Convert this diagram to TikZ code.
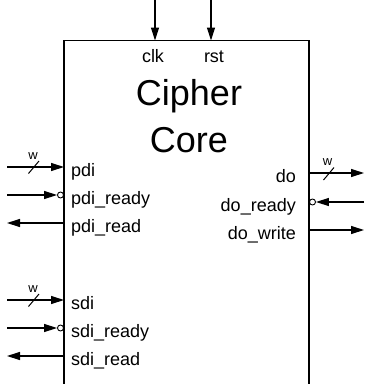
\documentclass[tikz,border=0pt]{standalone}
\usepackage{fontspec}
\setmainfont{Liberation Sans}
\usetikzlibrary{arrows.meta}
\begin{document}
\begin{tikzpicture}[x=1pt,y=-1pt,
  portlbl/.style={font=\fontsize{18}{20}\selectfont, inner sep=0pt},
  bigtitle/.style={font=\fontsize{36}{40}\selectfont, inner sep=0pt},
  buslbl/.style={font=\fontsize{13}{14}\selectfont, inner sep=0pt},
  sig/.style={line width=1.2pt, -{Triangle[length=13pt,width=8pt]}},
  neg/.style={circle, draw, line width=0.9pt, minimum size=6pt, inner sep=0pt},
  slash/.style={line width=1pt}]
\useasboundingbox (0,0) rectangle (365,384);
% box (open bottom)
\coordinate (bl) at (64,384);
\coordinate (tl) at (64,40.5);
\coordinate (tr) at (309,40.5);
\coordinate (br) at (309,384);
\draw[line width=1.3pt] (bl) -- (tl) -- (tr) -- (br);
% title
\node[bigtitle, anchor=base] (cipher) at (189,105) {Cipher};
\node[bigtitle, anchor=base] (core) at (189,152) {Core};
% clk / rst
\coordinate (clkin) at (155,0);
\coordinate (clkp) at (155,40.5);
\coordinate (rstin) at (211,0);
\coordinate (rstp) at (211,40.5);
\draw[sig] (clkin) -- (clkp);
\draw[sig] (rstin) -- (rstp);
\node[portlbl, anchor=base] (clk) at (153,62) {clk};
\node[portlbl, anchor=base] (rst) at (214,62) {rst};
% left ports
\foreach \nm/\yy in {pdi/167, pdir/195, pdirr/223, sdi/300, sdir/328, sdirr/356}{
  \coordinate (\nm-out) at (7,\yy);
  \coordinate (\nm-in) at (64,\yy);
}
\node[neg] (pdircirc) at (60.5,195) {};
\node[neg] (sdircirc) at (60.5,328) {};
\draw[sig] (pdi-out) -- (pdi-in);
\draw[sig] (pdir-out) -- (pdircirc.west);
\draw[sig] (pdirr-in) -- (pdirr-out);
\draw[sig] (sdi-out) -- (sdi-in);
\draw[sig] (sdir-out) -- (sdircirc.west);
\draw[sig] (sdirr-in) -- (sdirr-out);
% bus marks left
\draw[slash] (28.5,173.5) -- (39,161);
\node[buslbl] (wpdi) at (33,156) {w};
\draw[slash] (28.5,306.5) -- (39,294);
\node[buslbl] (wsdi) at (33,289) {w};
\node[portlbl, anchor=base west] (lpdi) at (71,176) {pdi};
\node[portlbl, anchor=base west] (lpdir) at (71,204) {pdi\_ready};
\node[portlbl, anchor=base west] (lpdirr) at (71,232) {pdi\_read};
\node[portlbl, anchor=base west] (lsdi) at (71,309) {sdi};
\node[portlbl, anchor=base west] (lsdir) at (71,337) {sdi\_ready};
\node[portlbl, anchor=base west] (lsdirr) at (71,365) {sdi\_read};
% right ports
\foreach \nm/\yy in {do/173, dor/202, dow/230}{
  \coordinate (\nm-in) at (309,\yy);
  \coordinate (\nm-out) at (364,\yy);
}
\node[neg] (dorcirc) at (312.5,202) {};
\draw[sig] (do-in) -- (do-out);
\draw[sig] (dor-out) -- (dorcirc.east);
\draw[sig] (dow-in) -- (dow-out);
\draw[slash] (323.5,180) -- (334,167.5);
\node[buslbl] (wdo) at (327.5,162) {w};
\node[portlbl, anchor=base east] (ldo) at (296,182) {do};
\node[portlbl, anchor=base east] (ldor) at (296,211) {do\_ready};
\node[portlbl, anchor=base east] (ldow) at (296,239) {do\_write};
\end{tikzpicture}
\end{document}
